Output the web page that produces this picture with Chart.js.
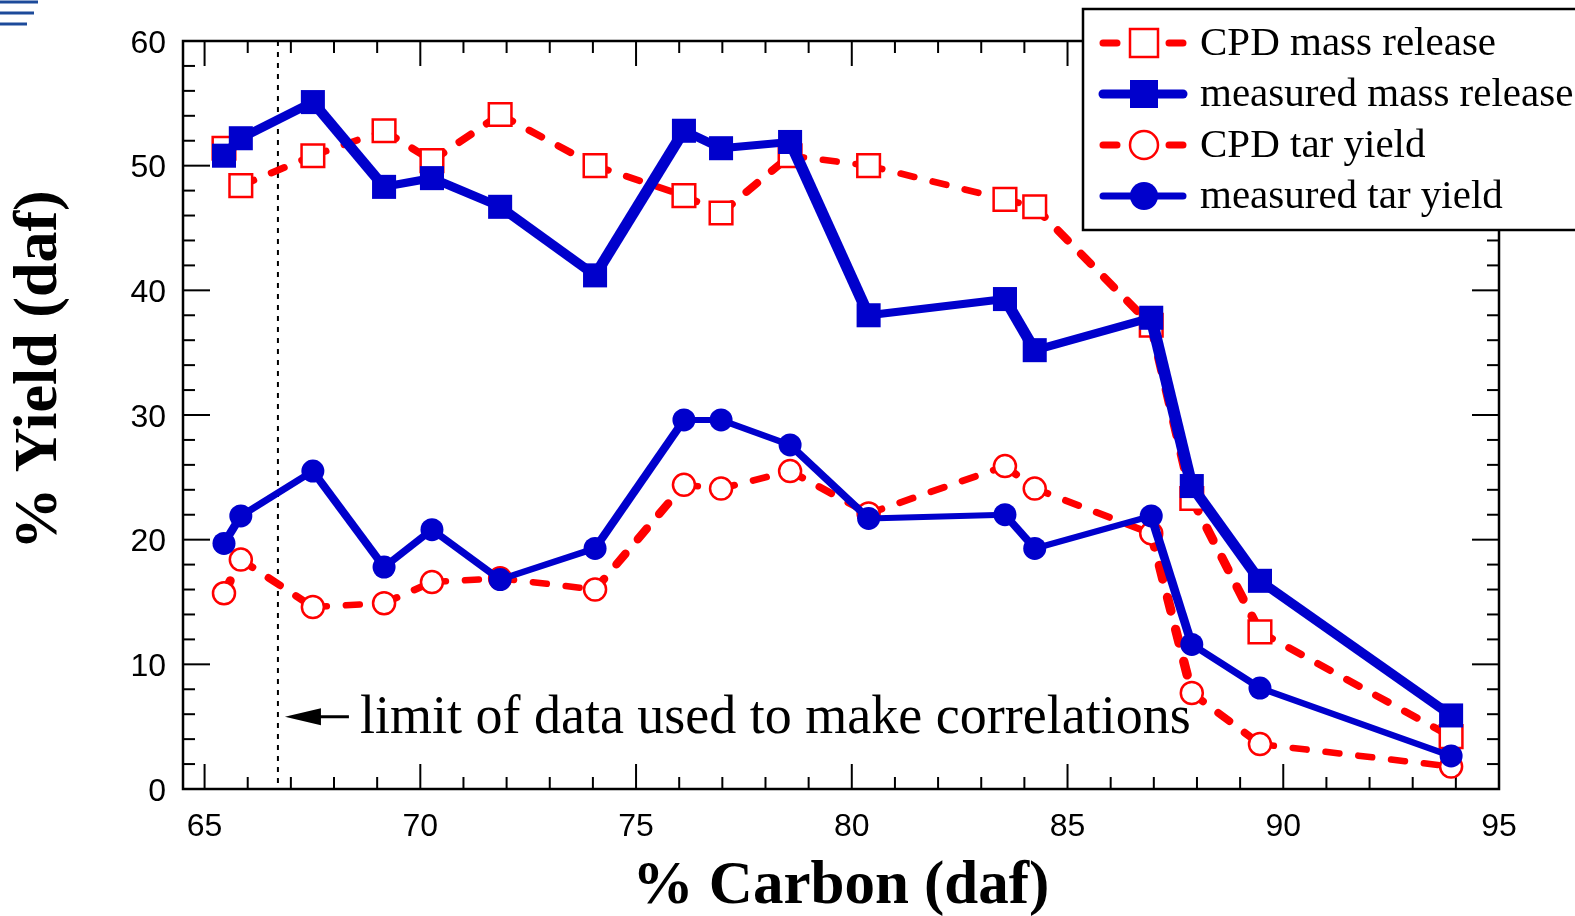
<!DOCTYPE html>
<html>
<head>
<meta charset="utf-8">
<script src="https://cdn.jsdelivr.net/npm/chart.js@4/dist/chart.umd.min.js"></script>
<style>
  html, body { margin: 0; padding: 0; background: #fff; }
  #wrap { width: 1575px; height: 916px; }
</style>
</head>
<body>
<div id="wrap"><canvas id="yield-chart" width="1575" height="916"></canvas></div>
<script>
// % carbon (daf) of each coal, shared by all four series
const carbon = [65.45, 65.84, 67.51, 69.16, 70.27, 71.85, 74.05, 76.11, 76.97, 78.57, 80.39, 83.55, 84.24, 86.94, 87.88, 89.46, 93.89];
const cpdMass = [51.4, 48.4, 50.8, 52.8, 50.4, 54.1, 50.0, 47.6, 46.2, 50.8, 50.0, 47.3, 46.7, 37.2, 23.3, 12.6, 4.2];
const measuredMass = [50.8, 52.2, 55.1, 48.3, 49.0, 46.7, 41.2, 52.8, 51.4, 51.9, 38.0, 39.3, 35.2, 37.8, 24.3, 16.7, 5.9];
const cpdTar = [15.7, 18.4, 14.6, 14.9, 16.6, 16.9, 16.0, 24.4, 24.1, 25.5, 22.1, 25.9, 24.1, 20.5, 7.7, 3.6, 1.8];
const measuredTar = [19.7, 21.9, 25.5, 17.8, 20.8, 16.8, 19.3, 29.6, 29.6, 27.6, 21.7, 22.0, 19.3, 21.9, 11.6, 8.1, 2.65];

const xTickValues = [65, 70, 75, 80, 85, 90, 95];
const yTickValues = [0, 10, 20, 30, 40, 50, 60];
const correlationLimit = 66.7;
const seriesLabels = ["CPD mass release", "measured mass release", "CPD tar yield", "measured tar yield"];

const RED = "#ff0000";
const BLUE = "#0000cc";
const SERIF = "'Liberation Serif', 'Times New Roman', serif";
const SANS = "'Liberation Sans', Arial, sans-serif";

function toPoints(values) {
  return carbon.map((x, i) => ({ x: x, y: values[i] }));
}

// the source picture was stretched, so flat segments look thinner than steep ones
function slopeWidth(flat, steep) {
  return (c) => {
    const ang = Math.atan2(Math.abs(c.p1.y - c.p0.y), Math.abs(c.p1.x - c.p0.x));
    return Math.hypot(flat * Math.cos(ang), steep * Math.sin(ang));
  };
}

function strokeLine(ctx, x1, y1, x2, y2) {
  ctx.beginPath();
  ctx.moveTo(x1, y1);
  ctx.lineTo(x2, y2);
  ctx.stroke();
}

// box round the plot, inward ticks on all four sides, dotted limit line
const frameAndTicks = {
  id: "frameAndTicks",
  beforeDatasetsDraw(chart) {
    const { ctx, chartArea: a, scales: { x, y } } = chart;
    ctx.save();
    ctx.strokeStyle = "#000";
    ctx.lineWidth = 2.5;
    ctx.strokeRect(a.left, a.top, a.right - a.left, a.bottom - a.top);

    ctx.lineWidth = 2;
    for (let v = Math.ceil(x.min); v <= x.max; v++) {
      const px = x.getPixelForValue(v);
      const len = v % 5 === 0 ? 25 : 12;
      strokeLine(ctx, px, a.bottom, px, a.bottom - len);
      strokeLine(ctx, px, a.top, px, a.top + len);
    }
    for (let v = y.min; v <= y.max; v += 2) {
      const py = y.getPixelForValue(v);
      const len = v % 10 === 0 ? 27 : 12;
      strokeLine(ctx, a.left, py, a.left + len, py);
      strokeLine(ctx, a.right, py, a.right - len, py);
    }

    const lx = x.getPixelForValue(correlationLimit);
    ctx.setLineDash([5, 6]);
    strokeLine(ctx, lx, a.top, lx, a.bottom);
    ctx.restore();

    // y title sits a little above the middle of the axis
    ctx.save();
    ctx.translate(40, 370);
    ctx.rotate(-Math.PI / 2);
    ctx.font = "bold 62px " + SERIF;
    ctx.fillStyle = "#000";
    ctx.textAlign = "center";
    ctx.textBaseline = "middle";
    ctx.fillText("% Yield (daf)", 0, 0);
    ctx.restore();
  },
  afterDatasetsDraw(chart) {
    const { ctx, scales: { x, y } } = chart;
    const tip = x.getPixelForValue(correlationLimit) + 7;
    const ay = y.getPixelForValue(5.8);
    ctx.save();
    ctx.strokeStyle = "#000";
    ctx.fillStyle = "#000";
    ctx.lineWidth = 3;
    strokeLine(ctx, tip + 25, ay, tip + 64, ay);
    ctx.beginPath();
    ctx.moveTo(tip, ay);
    ctx.lineTo(tip + 36, ay - 8.5);
    ctx.lineTo(tip + 36, ay + 8.5);
    ctx.closePath();
    ctx.fill();
    ctx.font = "54px " + SERIF;
    ctx.textBaseline = "alphabetic";
    ctx.fillText("limit of data used to make correlations", tip + 75, ay + 16);
    ctx.restore();
  }
};

// boxed legend in the top right corner, drawn over the frame
const boxLegend = {
  id: "boxLegend",
  afterDraw(chart) {
    const ctx = chart.ctx;
    const left = 1083, top = 9, rowH = 51;
    ctx.save();
    ctx.fillStyle = "#fff";
    ctx.fillRect(left, top, 600, 221);
    ctx.strokeStyle = "#000";
    ctx.lineWidth = 2.5;
    ctx.strokeRect(left, top, 600, 221);

    chart.data.datasets.slice().sort((a, b) => a.legendIndex - b.legendIndex).forEach((ds, i) => {
      const cy = top + 34 + i * rowH;
      const cx = left + 61;
      ctx.save();
      ctx.strokeStyle = ds.borderColor;
      ctx.lineWidth = ds.borderWidth;
      ctx.lineCap = "round";
      ctx.setLineDash(ds.borderDash || []);
      strokeLine(ctx, left + 20, cy, left + 100, cy);
      ctx.setLineDash([]);
      ctx.fillStyle = ds.pointBackgroundColor;
      ctx.strokeStyle = ds.pointBorderColor;
      ctx.lineWidth = 2.5;
      ctx.beginPath();
      if (ds.pointStyle === "rect") ctx.rect(cx - 14, cy - 14, 28, 28);
      else ctx.arc(cx, cy, 14, 0, Math.PI * 2);
      ctx.fill();
      if (ds.pointBackgroundColor === "#fff") ctx.stroke();
      ctx.restore();

      ctx.fillStyle = "#000";
      ctx.font = "41px " + SERIF;
      ctx.textBaseline = "alphabetic";
      ctx.fillText(ds.label, left + 117, cy + 12);
    });

    // little blue mark cut off in the top left corner
    ctx.strokeStyle = "#1c4a9a";
    ctx.lineWidth = 3;
    strokeLine(ctx, 0, 2, 38, 2);
    strokeLine(ctx, 0, 13, 34, 13);
    strokeLine(ctx, 0, 24, 27, 24);
    ctx.restore();
  }
};

const ctx = document.getElementById("yield-chart").getContext("2d");
new Chart(ctx, {
  type: "line",
  data: {
    datasets: [
      {
        label: seriesLabels[1],
        legendIndex: 1,
        data: toPoints(measuredMass),
        borderColor: BLUE,
        borderWidth: 9,
        segment: { borderWidth: slopeWidth(8, 12) },
        pointStyle: "rect",
        pointRadius: 17,
        pointBackgroundColor: BLUE,
        pointBorderColor: BLUE,
        pointBorderWidth: 0,
        order: 0,
      },
      {
        label: seriesLabels[3],
        legendIndex: 3,
        data: toPoints(measuredTar),
        borderColor: BLUE,
        borderWidth: 7,
        segment: { borderWidth: slopeWidth(6, 9) },
        pointStyle: "circle",
        pointRadius: 11.5,
        pointBackgroundColor: BLUE,
        pointBorderColor: BLUE,
        pointBorderWidth: 0,
        order: 1,
      },
      {
        label: seriesLabels[0],
        legendIndex: 0,
        data: toPoints(cpdMass),
        borderColor: RED,
        borderWidth: 7,
        borderDash: [14, 19],
        borderCapStyle: "round",
        segment: { borderWidth: slopeWidth(6.5, 9.5) },
        pointStyle: "rect",
        pointRadius: 16,
        pointBackgroundColor: "#fff",
        pointBorderColor: RED,
        pointBorderWidth: 2.5,
        order: 2,
      },
      {
        label: seriesLabels[2],
        legendIndex: 2,
        data: toPoints(cpdTar),
        borderColor: RED,
        borderWidth: 7,
        borderDash: [14, 19],
        borderCapStyle: "round",
        segment: { borderWidth: slopeWidth(6.5, 9.5) },
        pointStyle: "circle",
        pointRadius: 11,
        pointBackgroundColor: "#fff",
        pointBorderColor: RED,
        pointBorderWidth: 2.5,
        order: 3,
      },
    ],
  },
  options: {
    responsive: false,
    devicePixelRatio: 1,
    animation: false,
    layout: { padding: { top: 41, right: 76, left: 0, bottom: 0 } },
    elements: { line: { tension: 0 } },
    plugins: {
      legend: { display: false },
      tooltip: { enabled: false },
    },
    scales: {
      x: {
        type: "linear",
        min: 64.5,
        max: 95,
        grid: { display: false, drawTicks: false },
        border: { display: false },
        afterBuildTicks: (s) => { s.ticks = xTickValues.map((v) => ({ value: v })); },
        afterFit: (s) => { s.height = 127; },
        ticks: {
          autoSkip: false,
          maxRotation: 0,
          padding: 19,
          color: "#000",
          font: { family: SANS, size: 32 },
        },
        title: {
          display: true,
          text: "% Carbon (daf)",
          color: "#000",
          padding: { top: 0, bottom: 0 },
          font: { family: SERIF, size: 61, weight: "bold", lineHeight: 0.95 },
        },
      },
      y: {
        min: 0,
        max: 60,
        grid: { display: false, drawTicks: false },
        border: { display: false },
        afterBuildTicks: (s) => { s.ticks = yTickValues.map((v) => ({ value: v })); },
        afterFit: (s) => { s.width = 183; },
        ticks: {
          padding: 17,
          labelOffset: 3,
          color: "#000",
          font: { family: SANS, size: 32 },
        },
        title: { display: false },
      },
    },
  },
  plugins: [frameAndTicks, boxLegend],
});
</script>
</body>
</html>
